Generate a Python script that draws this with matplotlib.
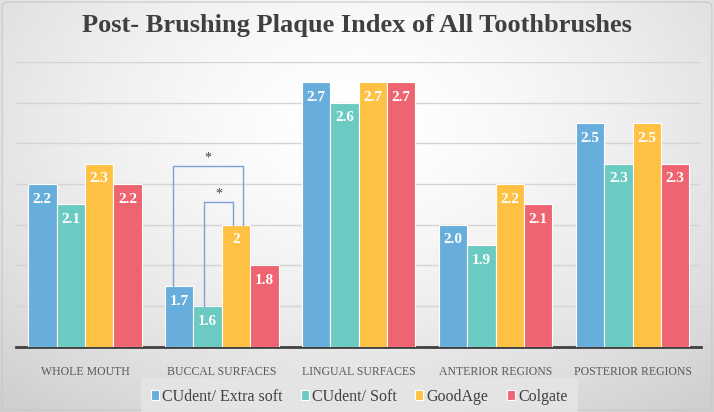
import numpy as np
import matplotlib
matplotlib.use("Agg")
import matplotlib.pyplot as plt
from matplotlib.patches import FancyBboxPatch

categories = ["WHOLE MOUTH", "BUCCAL SURFACES", "LINGUAL SURFACES",
              "ANTERIOR REGIONS", "POSTERIOR REGIONS"]
series = ["CUdent/ Extra soft", "CUdent/ Soft", "GoodAge", "Colgate"]
extra_soft = [2.2, 1.7, 2.7, 2.0, 2.5]
soft = [2.1, 1.6, 2.6, 1.9, 2.3]
goodage = [2.3, 2.0, 2.7, 2.2, 2.5]
colgate = [2.2, 1.8, 2.7, 2.1, 2.3]
labels = [["2.2", "1.7", "2.7", "2.0", "2.5"],
          ["2.1", "1.6", "2.6", "1.9", "2.3"],
          ["2.3", "2", "2.7", "2.2", "2.5"],
          ["2.2", "1.8", "2.7", "2.1", "2.3"]]
colors = ["#68AEDC", "#6BCBC3", "#FEC144", "#EE6470"]

plt.rcParams['font.family'] = ['Liberation Serif', 'DejaVu Serif']

fig = plt.figure(figsize=(7.14, 4.12), dpi=100)

# background gradient
bg = fig.add_axes([0, 0, 1, 1], zorder=-10)
yy, xx = np.mgrid[0:1:200j, 0:1:300j]
r = np.sqrt(((xx - 0.5) / 0.75) ** 2 + ((yy - 0.3) / 0.9) ** 2)
img = 1.0 - 0.19 * np.clip(r, 0, 1) ** 1.5
bg.imshow(img, cmap="gray", vmin=0, vmax=1, extent=[0, 1, 0, 1],
          aspect="auto", origin="upper")
bg.add_patch(FancyBboxPatch((0.003, 0.005), 0.994, 0.99,
                            boxstyle="round,pad=0,rounding_size=0.01",
                            fill=False, ec="#c8c8c8", lw=0.8,
                            transform=bg.transAxes))
bg.set_xlim(0, 1)
bg.set_ylim(0, 1)
bg.axis('off')

ax = fig.add_axes([0.023, 0.158, 0.959, 0.692])
ax.patch.set_alpha(0)
data = [extra_soft, soft, goodage, colgate]
x = np.arange(len(categories))
w = 0.207
for i, vals in enumerate(data):
    pos = x + (i - 1.5) * w
    ax.bar(pos, np.array(vals) - 1.4, w, bottom=1.4, color=colors[i],
           edgecolor="white", linewidth=0.8, label=series[i], zorder=3)
    for p, v, t in zip(pos, vals, labels[i]):
        ax.text(p, v - 0.075, t, ha="center", va="center", color="white",
                fontsize=11, fontweight="bold", zorder=4)

ax.set_xlim(-0.5, 4.5)
ax.set_ylim(1.4, 2.8)
ax.set_yticks(np.arange(1.4, 2.81, 0.2))
ax.yaxis.grid(True, color="#d4d4d4", lw=1, zorder=0)
ax.tick_params(axis="y", left=False, labelleft=False)
ax.tick_params(axis="x", bottom=False, pad=10)
ax.set_xticks(x)
ax.set_xticklabels(categories, fontsize=8.5, color="#595959")
for s in ["top", "right", "left"]:
    ax.spines[s].set_visible(False)
ax.spines["bottom"].set_color("#404040")
ax.spines["bottom"].set_linewidth(2)

# significance brackets (buccal surfaces)
bc = "#7F9FD6"
ax.plot([1 - 0.36, 1 - 0.36, 1 + 0.155, 1 + 0.155],
        [1.7, 2.286, 2.286, 2.0], color=bc, lw=1, zorder=5)
ax.plot([1 - 0.13, 1 - 0.13, 1 + 0.083, 1 + 0.083],
        [1.6, 2.114, 2.114, 2.0], color=bc, lw=1, zorder=5)
ax.text(1 - 0.10, 2.325, "*", ha="center", va="center", fontsize=10, color="#404040")
ax.text(1 - 0.025, 2.153, "*", ha="center", va="center", fontsize=10, color="#404040")

fig.text(0.5, 0.938, "Post- Brushing Plaque Index of All Toothbrushes",
         ha="center", va="center", fontsize=19, fontweight="bold", color="#404040")

leg = fig.legend(loc="center", bbox_to_anchor=(0.503, 0.037), ncol=4,
                 frameon=True, fontsize=11.5, handlelength=0.5, handleheight=0.6,
                 handletextpad=0.2, columnspacing=1.15, borderpad=0.35)
leg.get_frame().set_facecolor("#e6e6e6")
leg.get_frame().set_edgecolor("none")
leg.get_frame().set_boxstyle("square", pad=0.3)
for t in leg.get_texts():
    t.set_color("#404040")

fig.savefig("out.png", dpi=100)
